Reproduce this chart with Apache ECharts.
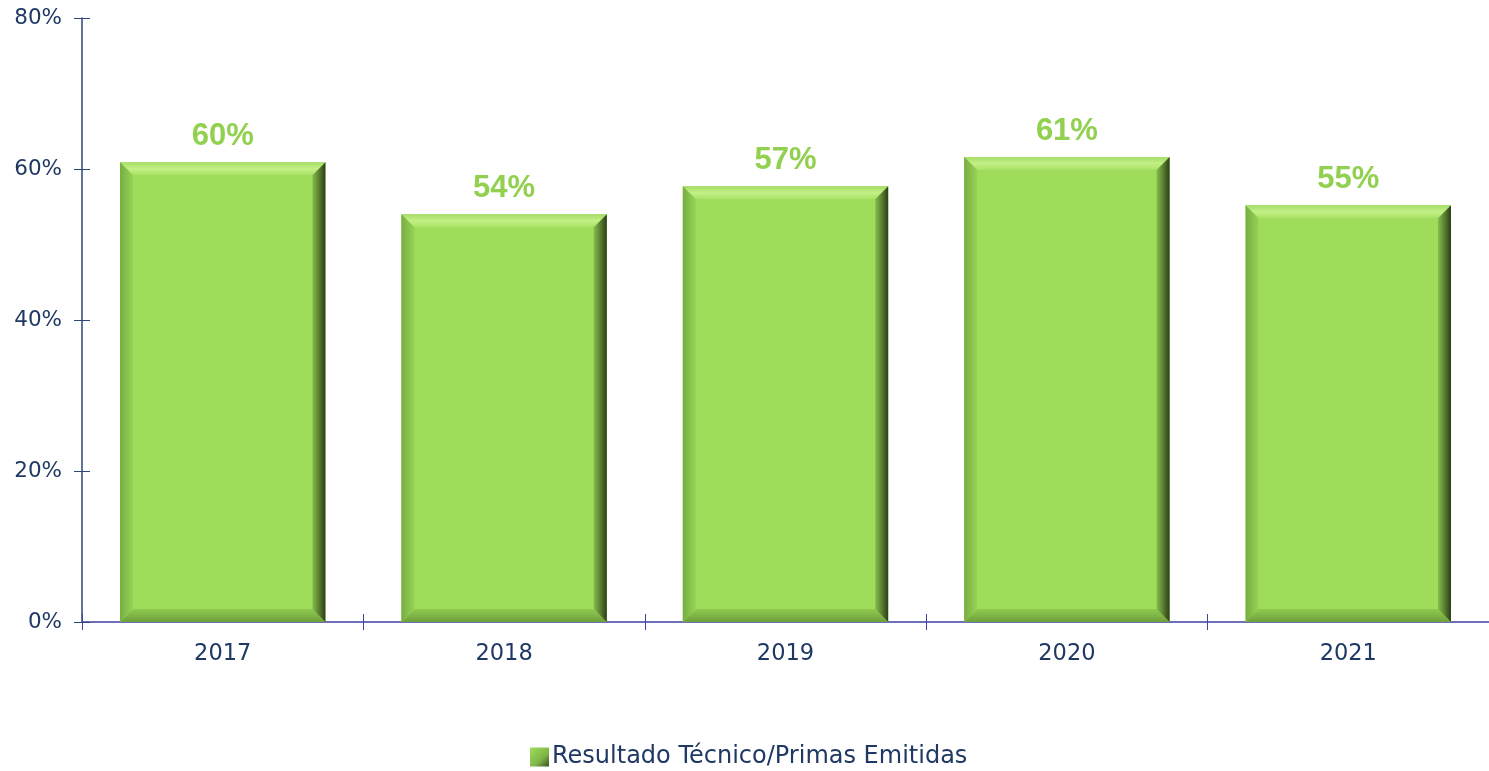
<!DOCTYPE html>
<html>
<head>
<meta charset="utf-8">
<title>Resultado Técnico/Primas Emitidas</title>
<script src="https://cdn.jsdelivr.net/npm/echarts@6/dist/echarts.min.js"></script>
<style>
    html, body { margin: 0; padding: 0; background: #fff; }
    #chart { width: 1489px; height: 771px; }
</style>
</head>
<body>
<div id="chart"></div>
<script>
// datos
var years = ['2017', '2018', '2019', '2020', '2021'];
var ratio = [60.9, 54.0, 57.7, 61.6, 55.2];
var ratioLabels = ['60%', '54%', '57%', '61%', '55%'];
var yTicks = [0, 20, 40, 60, 80];

var navy = '#1F3864';
var axisFont = '"DejaVu Sans", sans-serif';

// bisel de las barras (se dibuja encima de la barra)
function renderBevel(params, api) {
    var top = api.coord([api.value(0), api.value(1)]);
    var base = api.coord([api.value(0), 0]);
    var w = api.size([1, 0])[0] * 0.73;
    var x0 = top[0] - w / 2, x1 = top[0] + w / 2;
    var y0 = top[1], y1 = base[1];
    var b = 13;
    return {
        type: 'group',
        children: [
            {
                type: 'polygon',
                shape: { points: [[x0, y0], [x1, y0], [x1 - b, y0 + b], [x0 + b, y0 + b]] },
                style: {
                    fill: new echarts.graphic.LinearGradient(0, 0, 0, 1, [
                        { offset: 0, color: '#a6dc68' },
                        { offset: 0.5, color: '#c2f086' },
                        { offset: 1, color: '#a9e266' }
                    ])
                }
            },
            {
                type: 'polygon',
                shape: { points: [[x0, y1], [x1, y1], [x1 - b, y1 - b], [x0 + b, y1 - b]] },
                style: {
                    fill: new echarts.graphic.LinearGradient(0, 0, 0, 1, [
                        { offset: 0, color: '#8fcb50' },
                        { offset: 1, color: '#6f9f3c' }
                    ])
                }
            },
            {
                type: 'polygon',
                shape: { points: [[x0, y0], [x0 + b, y0 + b], [x0 + b, y1 - b], [x0, y1]] },
                style: {
                    fill: new echarts.graphic.LinearGradient(0, 0, 1, 0, [
                        { offset: 0, color: '#78ad42' },
                        { offset: 1, color: '#95d455' }
                    ])
                }
            },
            {
                type: 'polygon',
                shape: { points: [[x1, y0], [x1, y1], [x1 - b, y1 - b], [x1 - b, y0 + b]] },
                style: {
                    fill: new echarts.graphic.LinearGradient(0, 0, 1, 0, [
                        { offset: 0, color: '#86bd4c' },
                        { offset: 0.5, color: '#5a8030' },
                        { offset: 1, color: '#2c3d18' }
                    ])
                }
            }
        ]
    };
}

var chart = echarts.init(document.getElementById('chart'));
chart.setOption({
    animation: false,
    textStyle: { fontFamily: axisFont },
    grid: { left: 82, right: -5, top: 18, bottom: 149, containLabel: false },
    legend: {
        left: 525,
        top: 740,
        icon: 'rect',
        itemWidth: 19,
        itemHeight: 19,
        itemGap: 7,
        itemStyle: {
            color: new echarts.graphic.LinearGradient(0, 0, 1, 1, [
                { offset: 0, color: '#9edc5a' },
                { offset: 0.6, color: '#7fb648' },
                { offset: 1, color: '#3a521f' }
            ])
        },
        textStyle: { fontSize: 24, color: navy, fontFamily: axisFont, padding: [0, 0, 0, -2] },
        data: ['Resultado Técnico/Primas Emitidas']
    },
    xAxis: [
        {
            type: 'category',
            data: years,
            axisLine: { lineStyle: { color: '#3E42A0', width: 1.5 } },
            axisTick: { show: true, length: 8, lineStyle: { color: '#3E42A0' } },
            axisLabel: { fontSize: 22.5, color: navy, margin: 21 },
            splitLine: { show: false }
        },
        {
            type: 'category',
            data: years,
            position: 'bottom',
            axisLine: { show: false },
            axisTick: { show: true, inside: true, length: 8, lineStyle: { color: '#3E42A0' } },
            axisLabel: { show: false }
        }
    ],
    yAxis: [
        {
            type: 'value',
            min: yTicks[0],
            max: yTicks[yTicks.length - 1],
            interval: 20,
            axisLine: { show: true, lineStyle: { color: '#2E4576', width: 1.5 } },
            axisTick: { show: true, length: 8, lineStyle: { color: '#2E4576' } },
            axisLabel: { fontSize: 21.5, color: navy, margin: 20, formatter: '{value}%' },
            splitLine: { show: false }
        },
        {
            type: 'value',
            position: 'left',
            min: yTicks[0],
            max: yTicks[yTicks.length - 1],
            interval: 20,
            axisLine: { show: false },
            axisTick: { show: true, inside: true, length: 8, lineStyle: { color: '#2E4576' } },
            axisLabel: { show: false },
            splitLine: { show: false }
        }
    ],
    series: [
        {
            name: 'Resultado Técnico/Primas Emitidas',
            type: 'bar',
            data: ratio,
            barWidth: '73%',
            z: 2,
            itemStyle: { color: '#9edc5a' },
            label: {
                show: true,
                position: 'top',
                distance: 10,
                fontSize: 31,
                fontWeight: 'bold',
                fontFamily: '"Liberation Sans", Arial, sans-serif',
                color: '#92D050',
                formatter: function (p) { return ratioLabels[p.dataIndex]; }
            }
        },
        {
            type: 'custom',
            renderItem: renderBevel,
            data: ratio.map(function (v, i) { return [i, v]; }),
            encode: { x: 0, y: 1 },
            z: 3,
            silent: true
        }
    ]
});
</script>
</body>
</html>
